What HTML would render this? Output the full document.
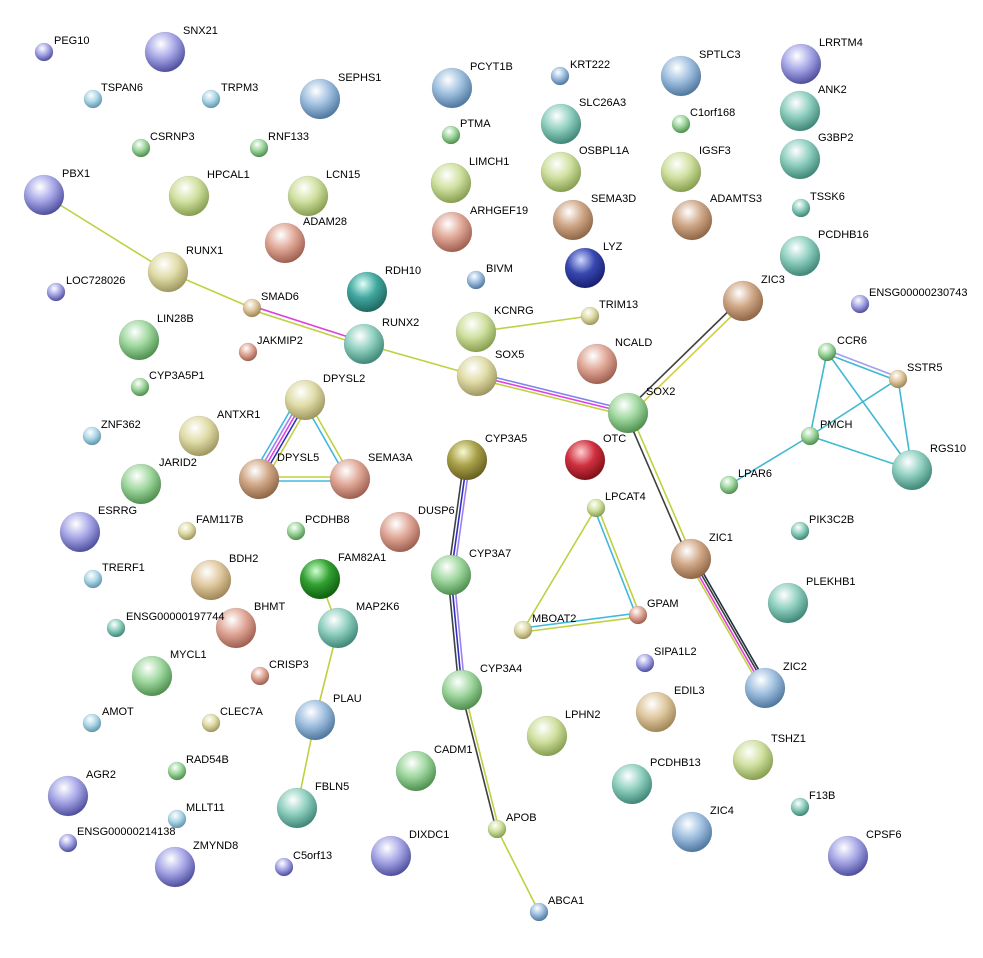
<!DOCTYPE html>
<html><head><meta charset="utf-8"><style>
body{margin:0;background:#fff}
svg{display:block}
text{font-family:"Liberation Sans",sans-serif;font-size:11px;fill:#000}
</style></head><body>
<svg width="983" height="958" viewBox="0 0 983 958" xmlns="http://www.w3.org/2000/svg">
<defs>
<radialGradient id="pu" cx="40%" cy="30%" r="70%"><stop offset="0" stop-color="#fff"/><stop offset=".5" stop-color="#a8a8e8"/><stop offset="1" stop-color="#5050a0"/></radialGradient>
<radialGradient id="bl" cx="40%" cy="30%" r="70%"><stop offset="0" stop-color="#fff"/><stop offset=".5" stop-color="#a0c0e0"/><stop offset="1" stop-color="#5078a0"/></radialGradient>
<radialGradient id="lb" cx="40%" cy="30%" r="70%"><stop offset="0" stop-color="#fff"/><stop offset=".5" stop-color="#b0d8e8"/><stop offset="1" stop-color="#6098b0"/></radialGradient>
<radialGradient id="te" cx="40%" cy="30%" r="70%"><stop offset="0" stop-color="#fff"/><stop offset=".5" stop-color="#90d0c0"/><stop offset="1" stop-color="#408878"/></radialGradient>
<radialGradient id="dt" cx="40%" cy="30%" r="70%"><stop offset="0" stop-color="#e0fff8"/><stop offset=".5" stop-color="#40a8a0"/><stop offset="1" stop-color="#206860"/></radialGradient>
<radialGradient id="gr" cx="40%" cy="30%" r="70%"><stop offset="0" stop-color="#fff"/><stop offset=".5" stop-color="#a0d8a0"/><stop offset="1" stop-color="#509050"/></radialGradient>
<radialGradient id="yg" cx="40%" cy="30%" r="70%"><stop offset="0" stop-color="#fff"/><stop offset=".5" stop-color="#d0e0a0"/><stop offset="1" stop-color="#88a050"/></radialGradient>
<radialGradient id="ye" cx="40%" cy="30%" r="70%"><stop offset="0" stop-color="#fff"/><stop offset=".5" stop-color="#e0dca8"/><stop offset="1" stop-color="#a09860"/></radialGradient>
<radialGradient id="sa" cx="40%" cy="30%" r="70%"><stop offset="0" stop-color="#fff"/><stop offset=".5" stop-color="#e0a898"/><stop offset="1" stop-color="#a06050"/></radialGradient>
<radialGradient id="br" cx="40%" cy="30%" r="70%"><stop offset="0" stop-color="#fff"/><stop offset=".5" stop-color="#d0a888"/><stop offset="1" stop-color="#906848"/></radialGradient>
<radialGradient id="ta" cx="40%" cy="30%" r="70%"><stop offset="0" stop-color="#fff"/><stop offset=".5" stop-color="#e0c8a0"/><stop offset="1" stop-color="#a08858"/></radialGradient>
<radialGradient id="re" cx="40%" cy="30%" r="70%"><stop offset="0" stop-color="#ffd0d0"/><stop offset=".5" stop-color="#d03040"/><stop offset="1" stop-color="#801018"/></radialGradient>
<radialGradient id="db" cx="40%" cy="30%" r="70%"><stop offset="0" stop-color="#d0d8ff"/><stop offset=".5" stop-color="#3848b0"/><stop offset="1" stop-color="#182070"/></radialGradient>
<radialGradient id="ol" cx="40%" cy="30%" r="70%"><stop offset="0" stop-color="#f8f8d0"/><stop offset=".5" stop-color="#a8a048"/><stop offset="1" stop-color="#686020"/></radialGradient>
<radialGradient id="dg" cx="40%" cy="30%" r="70%"><stop offset="0" stop-color="#d0ffd0"/><stop offset=".5" stop-color="#30a030"/><stop offset="1" stop-color="#106010"/></radialGradient>
</defs>
<g stroke-width="1.6" fill="none">
<line x1="44" y1="195" x2="168" y2="272" stroke="#c0d040"/>
<line x1="168" y1="272" x2="252" y2="308" stroke="#c0d040"/>
<line x1="252" y1="306" x2="364" y2="342" stroke="#e040e0"/>
<line x1="252" y1="310" x2="364" y2="346" stroke="#c0d040"/>
<line x1="364" y1="344" x2="477" y2="376" stroke="#c0d040"/>
<line x1="477" y1="373" x2="628" y2="410" stroke="#8080f0"/>
<line x1="477" y1="376" x2="628" y2="413" stroke="#e040e0"/>
<line x1="477" y1="379" x2="628" y2="416" stroke="#c0d040"/>
<line x1="476" y1="332" x2="590" y2="316" stroke="#c0d040"/>
<line x1="626" y1="411" x2="741" y2="299" stroke="#404040"/>
<line x1="630" y1="415" x2="745" y2="303" stroke="#d0d040"/>
<line x1="626" y1="414" x2="689" y2="560" stroke="#404040"/>
<line x1="630" y1="412" x2="693" y2="558" stroke="#c0d040"/>
<line x1="688" y1="561" x2="762" y2="690" stroke="#c0d040"/>
<line x1="690" y1="560" x2="764" y2="689" stroke="#e040e0"/>
<line x1="692" y1="558" x2="766" y2="687" stroke="#404040"/>
<line x1="694" y1="557" x2="768" y2="686" stroke="#203040"/>
<line x1="298" y1="397" x2="252" y2="476" stroke="#40b8e0"/>
<line x1="301" y1="399" x2="255" y2="478" stroke="#a080f0"/>
<line x1="304" y1="400" x2="258" y2="479" stroke="#e040e0"/>
<line x1="307" y1="401" x2="261" y2="480" stroke="#3030c0"/>
<line x1="310" y1="403" x2="264" y2="482" stroke="#c0d040"/>
<line x1="303" y1="401" x2="348" y2="480" stroke="#40b8e0"/>
<line x1="307" y1="399" x2="352" y2="478" stroke="#c0d040"/>
<line x1="259" y1="477" x2="350" y2="477" stroke="#c0d040"/>
<line x1="259" y1="481" x2="350" y2="481" stroke="#40b8e0"/>
<line x1="464" y1="460" x2="448" y2="575" stroke="#404040"/>
<line x1="467" y1="460" x2="451" y2="575" stroke="#3030c0"/>
<line x1="470" y1="460" x2="454" y2="575" stroke="#a080f0"/>
<line x1="448" y1="575" x2="459" y2="690" stroke="#404040"/>
<line x1="451" y1="575" x2="462" y2="690" stroke="#3030c0"/>
<line x1="454" y1="575" x2="465" y2="690" stroke="#a080f0"/>
<line x1="461" y1="690" x2="496" y2="829" stroke="#404040"/>
<line x1="464" y1="690" x2="499" y2="829" stroke="#c0d040"/>
<line x1="497" y1="829" x2="539" y2="912" stroke="#c0d040"/>
<line x1="594" y1="508" x2="636" y2="615" stroke="#40b8e0"/>
<line x1="598" y1="508" x2="640" y2="615" stroke="#c0d040"/>
<line x1="596" y1="508" x2="523" y2="630" stroke="#c0d040"/>
<line x1="523" y1="628" x2="638" y2="613" stroke="#40b8e0"/>
<line x1="523" y1="632" x2="638" y2="617" stroke="#c0d040"/>
<line x1="320" y1="579" x2="338" y2="628" stroke="#c0d040"/>
<line x1="338" y1="628" x2="315" y2="720" stroke="#c0d040"/>
<line x1="315" y1="720" x2="297" y2="808" stroke="#c0d040"/>
<line x1="827" y1="350" x2="898" y2="377" stroke="#a0a0f0"/>
<line x1="827" y1="354" x2="898" y2="381" stroke="#40b8d0"/>
<line x1="827" y1="352" x2="810" y2="436" stroke="#40b8d0"/>
<line x1="827" y1="352" x2="912" y2="470" stroke="#40b8d0"/>
<line x1="898" y1="379" x2="810" y2="436" stroke="#40b8d0"/>
<line x1="898" y1="379" x2="912" y2="470" stroke="#40b8d0"/>
<line x1="810" y1="436" x2="912" y2="470" stroke="#40b8d0"/>
<line x1="810" y1="436" x2="729" y2="485" stroke="#40b8d0"/>
</g>
<g stroke="#0002" stroke-width=".5">
<circle cx="44" cy="52" r="9" fill="url(#pu)"/>
<circle cx="165" cy="52" r="20" fill="url(#pu)"/>
<circle cx="93" cy="99" r="9" fill="url(#lb)"/>
<circle cx="211" cy="99" r="9" fill="url(#lb)"/>
<circle cx="320" cy="99" r="20" fill="url(#bl)"/>
<circle cx="452" cy="88" r="20" fill="url(#bl)"/>
<circle cx="560" cy="76" r="9" fill="url(#bl)"/>
<circle cx="681" cy="76" r="20" fill="url(#bl)"/>
<circle cx="801" cy="64" r="20" fill="url(#pu)"/>
<circle cx="141" cy="148" r="9" fill="url(#gr)"/>
<circle cx="259" cy="148" r="9" fill="url(#gr)"/>
<circle cx="451" cy="135" r="9" fill="url(#gr)"/>
<circle cx="561" cy="124" r="20" fill="url(#te)"/>
<circle cx="681" cy="124" r="9" fill="url(#gr)"/>
<circle cx="800" cy="111" r="20" fill="url(#te)"/>
<circle cx="800" cy="159" r="20" fill="url(#te)"/>
<circle cx="44" cy="195" r="20" fill="url(#pu)"/>
<circle cx="189" cy="196" r="20" fill="url(#yg)"/>
<circle cx="308" cy="196" r="20" fill="url(#yg)"/>
<circle cx="451" cy="183" r="20" fill="url(#yg)"/>
<circle cx="561" cy="172" r="20" fill="url(#yg)"/>
<circle cx="681" cy="172" r="20" fill="url(#yg)"/>
<circle cx="801" cy="208" r="9" fill="url(#te)"/>
<circle cx="452" cy="232" r="20" fill="url(#sa)"/>
<circle cx="573" cy="220" r="20" fill="url(#br)"/>
<circle cx="692" cy="220" r="20" fill="url(#br)"/>
<circle cx="285" cy="243" r="20" fill="url(#sa)"/>
<circle cx="800" cy="256" r="20" fill="url(#te)"/>
<circle cx="168" cy="272" r="20" fill="url(#ye)"/>
<circle cx="56" cy="292" r="9" fill="url(#pu)"/>
<circle cx="367" cy="292" r="20" fill="url(#dt)"/>
<circle cx="476" cy="280" r="9" fill="url(#bl)"/>
<circle cx="585" cy="268" r="20" fill="url(#db)"/>
<circle cx="743" cy="301" r="20" fill="url(#br)"/>
<circle cx="860" cy="304" r="9" fill="url(#pu)"/>
<circle cx="252" cy="308" r="9" fill="url(#ta)"/>
<circle cx="590" cy="316" r="9" fill="url(#ye)"/>
<circle cx="476" cy="332" r="20" fill="url(#yg)"/>
<circle cx="139" cy="340" r="20" fill="url(#gr)"/>
<circle cx="364" cy="344" r="20" fill="url(#te)"/>
<circle cx="248" cy="352" r="9" fill="url(#sa)"/>
<circle cx="597" cy="364" r="20" fill="url(#sa)"/>
<circle cx="827" cy="352" r="9" fill="url(#gr)"/>
<circle cx="477" cy="376" r="20" fill="url(#ye)"/>
<circle cx="898" cy="379" r="9" fill="url(#ta)"/>
<circle cx="140" cy="387" r="9" fill="url(#gr)"/>
<circle cx="305" cy="400" r="20" fill="url(#ye)"/>
<circle cx="628" cy="413" r="20" fill="url(#gr)"/>
<circle cx="810" cy="436" r="9" fill="url(#gr)"/>
<circle cx="92" cy="436" r="9" fill="url(#lb)"/>
<circle cx="199" cy="436" r="20" fill="url(#ye)"/>
<circle cx="585" cy="460" r="20" fill="url(#re)"/>
<circle cx="912" cy="470" r="20" fill="url(#te)"/>
<circle cx="467" cy="460" r="20" fill="url(#ol)"/>
<circle cx="259" cy="479" r="20" fill="url(#br)"/>
<circle cx="350" cy="479" r="20" fill="url(#sa)"/>
<circle cx="141" cy="484" r="20" fill="url(#gr)"/>
<circle cx="729" cy="485" r="9" fill="url(#gr)"/>
<circle cx="596" cy="508" r="9" fill="url(#yg)"/>
<circle cx="80" cy="532" r="20" fill="url(#pu)"/>
<circle cx="187" cy="531" r="9" fill="url(#ye)"/>
<circle cx="296" cy="531" r="9" fill="url(#gr)"/>
<circle cx="400" cy="532" r="20" fill="url(#sa)"/>
<circle cx="800" cy="531" r="9" fill="url(#te)"/>
<circle cx="691" cy="559" r="20" fill="url(#br)"/>
<circle cx="451" cy="575" r="20" fill="url(#gr)"/>
<circle cx="93" cy="579" r="9" fill="url(#lb)"/>
<circle cx="211" cy="580" r="20" fill="url(#ta)"/>
<circle cx="320" cy="579" r="20" fill="url(#dg)"/>
<circle cx="788" cy="603" r="20" fill="url(#te)"/>
<circle cx="638" cy="615" r="9" fill="url(#sa)"/>
<circle cx="116" cy="628" r="9" fill="url(#te)"/>
<circle cx="236" cy="628" r="20" fill="url(#sa)"/>
<circle cx="338" cy="628" r="20" fill="url(#te)"/>
<circle cx="523" cy="630" r="9" fill="url(#ye)"/>
<circle cx="645" cy="663" r="9" fill="url(#pu)"/>
<circle cx="260" cy="676" r="9" fill="url(#sa)"/>
<circle cx="152" cy="676" r="20" fill="url(#gr)"/>
<circle cx="462" cy="690" r="20" fill="url(#gr)"/>
<circle cx="765" cy="688" r="20" fill="url(#bl)"/>
<circle cx="656" cy="712" r="20" fill="url(#ta)"/>
<circle cx="92" cy="723" r="9" fill="url(#lb)"/>
<circle cx="211" cy="723" r="9" fill="url(#ye)"/>
<circle cx="315" cy="720" r="20" fill="url(#bl)"/>
<circle cx="547" cy="736" r="20" fill="url(#yg)"/>
<circle cx="753" cy="760" r="20" fill="url(#yg)"/>
<circle cx="177" cy="771" r="9" fill="url(#gr)"/>
<circle cx="416" cy="771" r="20" fill="url(#gr)"/>
<circle cx="632" cy="784" r="20" fill="url(#te)"/>
<circle cx="68" cy="796" r="20" fill="url(#pu)"/>
<circle cx="177" cy="819" r="9" fill="url(#lb)"/>
<circle cx="297" cy="808" r="20" fill="url(#te)"/>
<circle cx="800" cy="807" r="9" fill="url(#te)"/>
<circle cx="692" cy="832" r="20" fill="url(#bl)"/>
<circle cx="497" cy="829" r="9" fill="url(#yg)"/>
<circle cx="68" cy="843" r="9" fill="url(#pu)"/>
<circle cx="391" cy="856" r="20" fill="url(#pu)"/>
<circle cx="848" cy="856" r="20" fill="url(#pu)"/>
<circle cx="284" cy="867" r="9" fill="url(#pu)"/>
<circle cx="175" cy="867" r="20" fill="url(#pu)"/>
<circle cx="539" cy="912" r="9" fill="url(#bl)"/>
</g>
<g>
<text x="54" y="44">PEG10</text><text x="183" y="34">SNX21</text><text x="101" y="91">TSPAN6</text><text x="221" y="91">TRPM3</text>
<text x="338" y="81">SEPHS1</text><text x="470" y="70">PCYT1B</text><text x="570" y="68">KRT222</text><text x="699" y="58">SPTLC3</text>
<text x="819" y="46">LRRTM4</text><text x="150" y="140">CSRNP3</text><text x="268" y="140">RNF133</text><text x="460" y="127">PTMA</text>
<text x="579" y="106">SLC26A3</text><text x="690" y="116">C1orf168</text><text x="818" y="93">ANK2</text><text x="818" y="141">G3BP2</text>
<text x="62" y="177">PBX1</text><text x="207" y="178">HPCAL1</text><text x="326" y="178">LCN15</text><text x="469" y="165">LIMCH1</text>
<text x="579" y="154">OSBPL1A</text><text x="699" y="154">IGSF3</text><text x="810" y="200">TSSK6</text><text x="470" y="214">ARHGEF19</text>
<text x="591" y="202">SEMA3D</text><text x="710" y="202">ADAMTS3</text><text x="303" y="225">ADAM28</text><text x="818" y="238">PCDHB16</text>
<text x="186" y="254">RUNX1</text><text x="66" y="284">LOC728026</text><text x="385" y="274">RDH10</text><text x="486" y="272">BIVM</text>
<text x="603" y="250">LYZ</text><text x="761" y="283">ZIC3</text><text x="869" y="296">ENSG00000230743</text><text x="261" y="300">SMAD6</text>
<text x="599" y="308">TRIM13</text><text x="494" y="314">KCNRG</text><text x="157" y="322">LIN28B</text><text x="382" y="326">RUNX2</text>
<text x="257" y="344">JAKMIP2</text><text x="615" y="346">NCALD</text><text x="837" y="344">CCR6</text><text x="495" y="358">SOX5</text>
<text x="907" y="371">SSTR5</text><text x="149" y="379">CYP3A5P1</text><text x="323" y="382">DPYSL2</text><text x="646" y="395">SOX2</text>
<text x="820" y="428">PMCH</text><text x="101" y="428">ZNF362</text><text x="217" y="418">ANTXR1</text><text x="603" y="442">OTC</text>
<text x="930" y="452">RGS10</text><text x="485" y="442">CYP3A5</text><text x="277" y="461">DPYSL5</text><text x="368" y="461">SEMA3A</text>
<text x="159" y="466">JARID2</text><text x="738" y="477">LPAR6</text><text x="605" y="500">LPCAT4</text><text x="98" y="514">ESRRG</text>
<text x="196" y="523">FAM117B</text><text x="305" y="523">PCDHB8</text><text x="418" y="514">DUSP6</text><text x="809" y="523">PIK3C2B</text>
<text x="709" y="541">ZIC1</text><text x="469" y="557">CYP3A7</text><text x="102" y="571">TRERF1</text><text x="229" y="562">BDH2</text>
<text x="338" y="561">FAM82A1</text><text x="806" y="585">PLEKHB1</text><text x="647" y="607">GPAM</text><text x="126" y="620">ENSG00000197744</text>
<text x="254" y="610">BHMT</text><text x="356" y="610">MAP2K6</text><text x="532" y="622">MBOAT2</text><text x="654" y="655">SIPA1L2</text>
<text x="269" y="668">CRISP3</text><text x="170" y="658">MYCL1</text><text x="480" y="672">CYP3A4</text><text x="783" y="670">ZIC2</text>
<text x="674" y="694">EDIL3</text><text x="102" y="715">AMOT</text><text x="220" y="715">CLEC7A</text><text x="333" y="702">PLAU</text>
<text x="565" y="718">LPHN2</text><text x="771" y="742">TSHZ1</text><text x="186" y="763">RAD54B</text><text x="434" y="753">CADM1</text>
<text x="650" y="766">PCDHB13</text><text x="86" y="778">AGR2</text><text x="186" y="811">MLLT11</text><text x="315" y="790">FBLN5</text>
<text x="809" y="799">F13B</text><text x="710" y="814">ZIC4</text><text x="506" y="821">APOB</text><text x="77" y="835">ENSG00000214138</text>
<text x="409" y="838">DIXDC1</text><text x="866" y="838">CPSF6</text><text x="293" y="859">C5orf13</text><text x="193" y="849">ZMYND8</text>
<text x="548" y="904">ABCA1</text>
</g>
</svg>
</body></html>
